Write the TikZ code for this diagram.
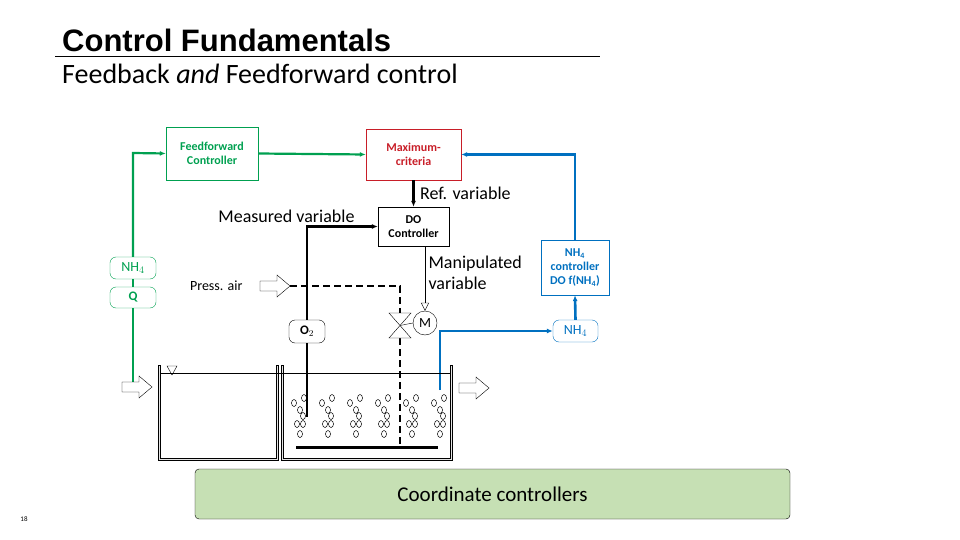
\documentclass[tikz,border=0pt]{standalone}
\usepackage{fontspec}
\setmainfont{Carlito}
\newfontfamily\arialfont{Liberation Sans}
\usetikzlibrary{positioning,arrows.meta}
\definecolor{ffgreen}{RGB}{0,160,80}
\definecolor{fbblue}{RGB}{0,112,192}
\definecolor{maxred}{RGB}{200,30,40}
\definecolor{coordfill}{RGB}{198,224,180}
\tikzset{
  ctrl/.style={draw,align=center,font=\fontsize{12}{14}\selectfont\bfseries,inner sep=2pt},
  pill/.style={draw,rounded corners=6pt,minimum width=46pt,minimum height=22pt,font=\fontsize{14}{16}\selectfont},
  sig/.style={line width=1.8pt,-{Latex[length=6pt,width=5pt]}},
  hollow/.pic={\draw[fill=white] (-15,-5) -- (2,-5) -- (2,-11) -- (15,0) -- (2,11) -- (2,5) -- (-15,5) -- cycle;},
  lbl/.style={font=\fontsize{18}{21}\selectfont,align=left},
  bubble/.style={draw,line width=0.5pt,x radius=2.5pt,y radius=3.5pt}
}
\begin{document}
\begin{tikzpicture}[x=1pt,y=-1pt]
\useasboundingbox (0,0) rectangle (960,540);
% title
\node[anchor=base west,font=\arialfont\fontsize{31}{34}\selectfont\bfseries,inner sep=0] (title) at (62,52) {Control Fundamentals};
\draw (55,56) -- (600,56);
\node[anchor=base west,font=\fontsize{28}{32}\selectfont,inner sep=0] (sub) at (62,84) {Feedback \emph{and} Feedforward control};
% controllers
\node[ctrl,ffgreen,minimum width=92pt,minimum height=53pt] (ff) at (212,153.5) {Feedforward\\Controller};
\node[ctrl,maxred,minimum width=95pt,minimum height=51pt] (max) at (413.5,154.5) {Maximum-\\criteria};
\node[ctrl,minimum width=71pt,minimum height=39pt] (do) at (413.5,226.5) {DO\\Controller};
\node[ctrl,fbblue,minimum width=68pt,minimum height=55pt] (nhc) at (575,267.5) {NH$_\mathbf{4}$\\controller\\DO f(NH$_\mathbf{4}$)};
% sensors
\node[pill,ffgreen] (nhin) at (133,268) {NH$_4$};
\node[pill,ffgreen,font=\fontsize{13}{15}\selectfont\bfseries,minimum height=21pt] (q) at (133,297.5) {Q};
\node[pill,fbblue,minimum width=45pt] (nhout) at (575.5,331) {NH$_4$};
\node[pill,minimum width=36pt,minimum height=23pt,font=\fontsize{13}{15}\selectfont\bfseries] (o2) at (307,331.5) {O$_2$};
\node[draw,circle,minimum size=24pt,inner sep=0,font=\fontsize{14}{16}\selectfont] (mot) at (425,323) {M};
% feedforward path
\coordinate (ffcorner) at (133,153);
\draw[ffgreen,line width=2.2pt] (q.north) -- (nhin.south);
\draw[sig,ffgreen,line width=2.2pt] (nhin.north) -- (ffcorner) -- (ff.west);
\draw[sig,ffgreen,line width=2.2pt] (ff.east) -- (max.west);
\draw[ffgreen,line width=2.2pt] (q.south) -- (133,382);
% feedback path
\coordinate (nhprobe) at (440,390);
\draw[sig,fbblue,line width=2.6pt] (nhprobe) |- (nhout.west);
\draw[sig,fbblue,line width=2.6pt] (nhout.north) -- (nhc.south);
\draw[sig,fbblue,line width=2.6pt] (nhc.north) |- (max.east);
% DO loop
\draw[sig,line width=2.4pt] (max.south) -- (do.north)
  node[midway,right,font=\fontsize{18}{21}\selectfont,xshift=2pt] {Ref. variable};
\draw[sig,line width=2.4pt] (o2.north) |- (do.west);
\node[lbl,anchor=base east] (meas) at (358,222) {Measured variable};
\draw[-{Triangle[open,length=8pt,width=8pt]}] (do.south -| mot.north) -- (mot.north);
\node[lbl,anchor=north west] (manip) at (425,252) {Manipulated\\variable};
% air
\pic at (275,286) {hollow};
\coordinate (airend) at (290,286);
\node[anchor=east,font=\fontsize{14}{16}\selectfont] (airlbl) at (246,286) {Press. air};
\coordinate (valvetop) at (400,313);
\coordinate (valvebot) at (400,338);
\draw[line width=2.4pt,dash pattern=on 7pt off 4pt] (airend) -| (valvetop);
\draw[line width=2.4pt,dash pattern=on 7pt off 4pt] (valvebot) -- (400,447);
\draw[fill=white] (389,313) -- (411,313) -- (389,338) -- (411,338) -- cycle;
\draw (400,325.5) -- (mot.west);
% tank
\draw[line width=2.4pt] (o2.south) -- (307,417);
\draw[line width=3pt] (296,447) -- (438,447);
\draw[thick,fill=gray!20] (158,365) -- (158,460) -- (278,460) -- (278,365) -- (276,365) -- (276,458) -- (160,458) -- (160,365) -- cycle;
\draw[thick,fill=gray!20] (281,365) -- (281,460) -- (452,460) -- (452,365) -- (450,365) -- (450,458) -- (283,458) -- (283,365) -- cycle;
\draw (160,373) -- (450,373);
\draw (167,366) -- (177,366) -- (172,375) -- cycle;
\pic at (137,387) {hollow};
\pic at (474,388) {hollow};
\foreach \cx in {300,328,356,384,412,440}{
  \draw[bubble] (\cx-6,403) ellipse [];
  \draw[bubble] (\cx+4,398) ellipse [];
  \draw[bubble] (\cx,410) ellipse [];
  \draw[bubble] (\cx+3,416) ellipse [];
  \draw[bubble] (\cx-3,424) ellipse [];
  \draw[bubble] (\cx+3,424) ellipse [];
  \draw[bubble] (\cx,434) ellipse [];
}
% coordination
\node[draw,fill=coordfill,rounded corners=4pt,minimum width=595pt,minimum height=50pt] (coord) at (492.5,494) {};
\node[anchor=base,font=\fontsize{21}{24}\selectfont] (coordlbl) at (492.5,501) {Coordinate controllers};
\node[font=\fontsize{7}{8}\selectfont] (page) at (24,519) {18};
\end{tikzpicture}
\end{document}
